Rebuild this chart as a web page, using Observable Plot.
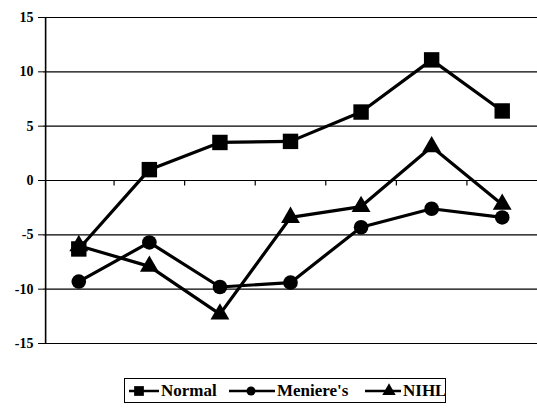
<!DOCTYPE html>
<html><head><meta charset="utf-8">
<script src="https://cdn.jsdelivr.net/npm/d3@7"></script>
<script src="https://cdn.jsdelivr.net/npm/@observablehq/plot@0.6"></script>
<style>
body{margin:0;background:#fff;font-family:"Liberation Serif",serif;}
#chart{position:absolute;left:0;top:0;}
#legend{position:absolute;left:124px;top:378px;width:322px;height:25px;border:1.5px solid #000;box-sizing:border-box;display:flex;align-items:center;font-weight:bold;font-size:17px;color:#000;font-family:"Liberation Serif",serif;white-space:nowrap;}
#legend .item{display:flex;align-items:center;}
#legend svg{display:block;}
</style></head><body>
<div id="chart"></div><div id="legend"></div>
<script>
const categories = [1, 2, 3, 4, 5, 6, 7];
const normal   = [-6.3, 1.0, 3.5, 3.6, 6.3, 11.1, 6.4];
const menieres = [-9.3, -5.7, -9.8, -9.4, -4.3, -2.6, -3.4];
const nihl     = [-6.0, -7.9, -12.3, -3.4, -2.4, 3.1, -2.2];
const seriesNames = ["Normal", "Meniere's", "NIHL"];
const seriesValues = [normal, menieres, nihl];
const symbols = ["square", "circle", "triangle"];
const yTicks = [-15, -10, -5, 0, 5, 10, 15];

const rows = seriesNames.flatMap((s, si) =>
  categories.map((c, i) => ({series: s, cat: c, value: seriesValues[si][i], symbol: symbols[si]})));
const boundaries = categories.slice(0, -1).map(c => c + 0.5);
const radii = {square: 8.7, circle: 7.3, triangle: 7};

const marks = [
  Plot.ruleY(yTicks, {stroke: "#000", strokeWidth: 1.2}),
  Plot.ruleX([categories[0] - 0.47], {y1: -15, y2: 15, stroke: "#000", strokeWidth: 1.6}),
  Plot.ruleX(boundaries, {y1: 0, y2: -0.5, stroke: "#000", strokeWidth: 1.2}),
  Plot.axisY({ticks: yTicks, tickSize: 5, tickPadding: 5, tickFormat: d => String(d),
    fontSize: 14, fontWeight: "bold", label: null}),
  Plot.line(rows, {x: "cat", y: "value", z: "series", stroke: "#000", strokeWidth: 3.2, strokeLinejoin: "miter"})
];
for (const sym of symbols) {
  marks.push(Plot.dot(rows.filter(d => d.symbol === sym),
    {x: "cat", y: "value", symbol: sym, r: radii[sym], fill: "#000", stroke: "none"}));
}

const chart = Plot.plot({
  width: 537,
  height: 360,
  marginLeft: 43,
  marginRight: 0,
  marginTop: 17,
  marginBottom: 17,
  x: {domain: [categories[0] - 0.5, categories[categories.length - 1] + 0.5], axis: null},
  y: {domain: [yTicks[0], yTicks[yTicks.length - 1]], axis: null},
  style: {background: "#fff", color: "#000", fontFamily: "'Liberation Serif', serif"},
  marks
});
document.getElementById("chart").appendChild(chart);

// Legend
const legend = document.getElementById("legend");
const legendSpec = [
  {w: 30, mx: 10, gapBefore: 4, text: 60},
  {w: 46, mx: 22, gapBefore: 8, text: 80},
  {w: 36, mx: 24, gapBefore: 8, text: 40}
];
seriesNames.forEach((name, i) => {
  const spec = legendSpec[i];
  const item = document.createElement("div");
  item.className = "item";
  item.style.marginLeft = spec.gapBefore + "px";
  const svg = d3.create("svg").attr("width", spec.w).attr("height", 18);
  svg.append("line").attr("x1", 0).attr("x2", spec.w).attr("y1", 9).attr("y2", 9)
    .attr("stroke", "#000").attr("stroke-width", 2.5);
  const r = {square: 5.5, circle: 4.5, triangle: 5}[symbols[i]];
  const symType = {square: d3.symbolSquare, circle: d3.symbolCircle, triangle: d3.symbolTriangle}[symbols[i]];
  svg.append("path").attr("d", d3.symbol(symType, Math.PI * r * r)())
    .attr("transform", `translate(${spec.mx},9)`).attr("fill", "#000");
  item.appendChild(svg.node());
  const t = document.createElement("span");
  t.textContent = name;
  t.style.display = "inline-block";
  t.style.width = spec.text + "px";
  t.style.paddingLeft = "2px";
  item.appendChild(t);
  legend.appendChild(item);
});
</script>
</body></html>
